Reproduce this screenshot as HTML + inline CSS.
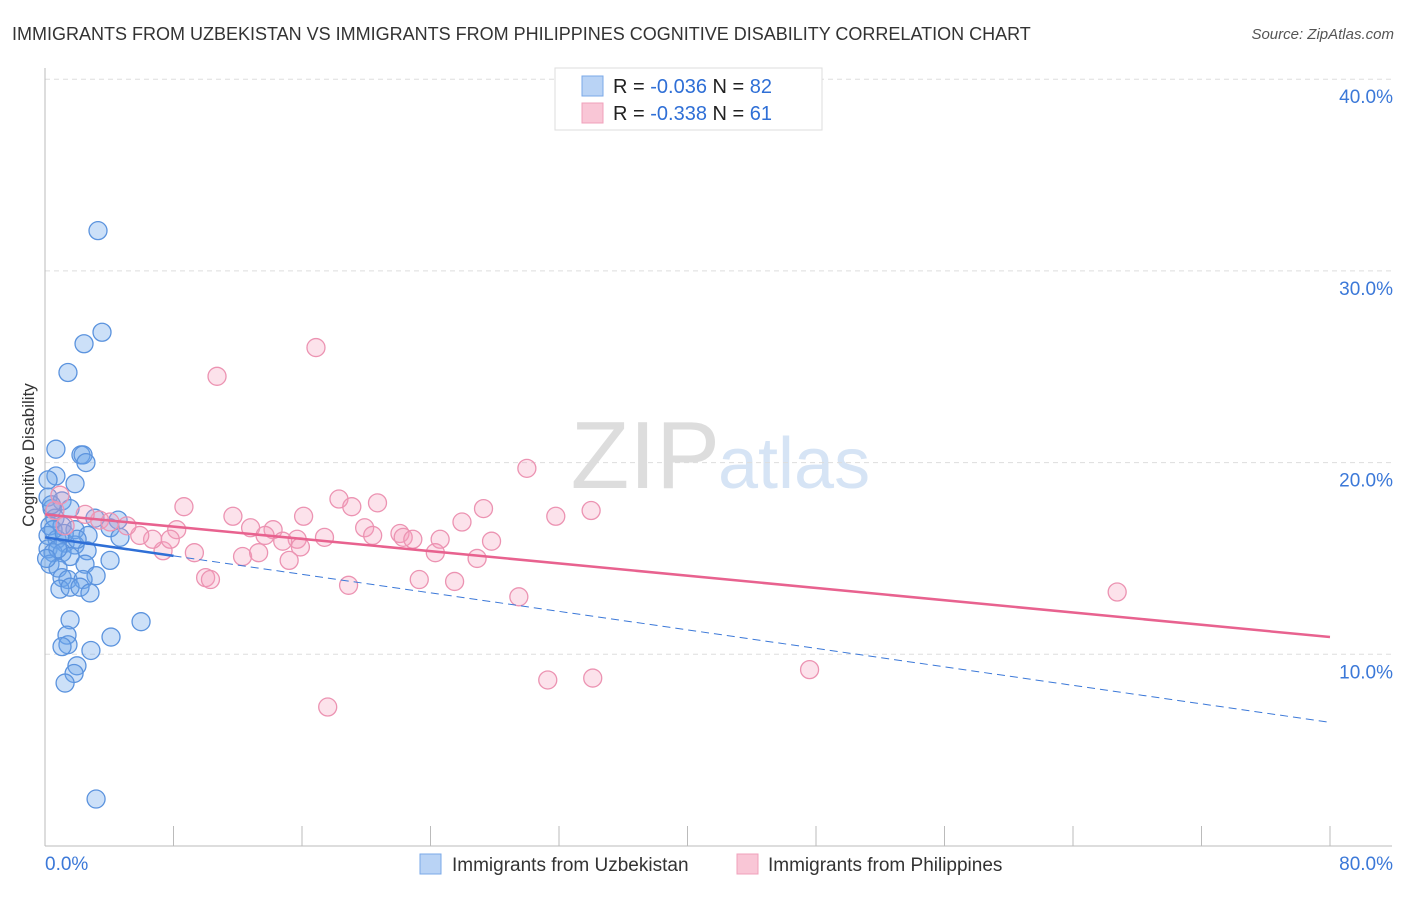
<!DOCTYPE html>
<html><head><meta charset="utf-8"><style>
body{margin:0;background:#fff;font-family:"Liberation Sans",sans-serif}
svg text{font-family:"Liberation Sans",sans-serif}
</style></head><body>
<svg width="1406" height="892" xmlns="http://www.w3.org/2000/svg">
<text x="12" y="40" font-size="18" fill="#333">IMMIGRANTS FROM UZBEKISTAN VS IMMIGRANTS FROM PHILIPPINES COGNITIVE DISABILITY CORRELATION CHART</text>
<text x="1394" y="39" font-size="15" fill="#555" font-style="italic" text-anchor="end">Source: ZipAtlas.com</text>
<text x="720" y="488" font-size="96" fill="#ddd" text-anchor="end" font-family="Liberation Serif">ZIP</text>
<text x="718" y="488" font-size="72" fill="#d6e4f5">atlas</text>
<g id="grid"></g>
<g id="axes"></g>
<g id="pts"></g>
<g id="lines"></g>
<text transform="translate(34,455) rotate(-90)" font-size="17" fill="#333" text-anchor="middle">Cognitive Disability</text>
<g>
<rect x="555" y="68" width="267" height="62" fill="#fff" stroke="#ddd"/>
<rect x="582" y="76" width="21" height="20" fill="#b9d3f5" stroke="#7aa8e8"/>
<rect x="582" y="103" width="21" height="20" fill="#f9c6d6" stroke="#f0a0bb"/>
<text x="613" y="93" font-size="20" fill="#222">R = <tspan fill="#2f6fd6">-0.036</tspan>   N = <tspan fill="#2f6fd6">82</tspan></text>
<text x="613" y="120" font-size="20" fill="#222">R =  <tspan fill="#2f6fd6">-0.338</tspan>   N =  <tspan fill="#2f6fd6">61</tspan></text>
</g>
<g>
<rect x="420" y="854" width="21" height="20" fill="#b9d3f5" stroke="#7aa8e8"/>
<text x="452" y="871" font-size="19" fill="#333">Immigrants from Uzbekistan</text>
<rect x="737" y="854" width="21" height="20" fill="#f9c6d6" stroke="#f0a0bb"/>
<text x="768" y="871" font-size="19" fill="#333">Immigrants from Philippines</text>
</g>
</svg>
<script>
const yTicks=[10,20,30,40];
const yTickLabels=["10.0%","20.0%","30.0%","40.0%"];
const xTickLabels=["0.0%","80.0%"];
const blueX=[3.3,3.55,2.43,1.43,0.68,2.24,2.37,2.55,0.68,1.87,0.19,0.19,1.06,0.44,1.56,0.62,4.55,3.11,0.31,1.06,1.87,4.05,0.19,2.68,4.67,0.75,1.25,0.19,1.87,0.5,1.06,2.62,1.56,0.31,4.05,2.49,0.81,1.06,3.18,1.43,2.37,0.93,1.56,2.18,2.8,5.98,1.56,1.37,1.43,1.06,4.11,2.86,1.99,1.81,1.25,3.18,0.5,0.8,0.1,1.2,0.4,2.0];
const blueY=[32.1,26.8,26.2,24.7,20.7,20.4,20.4,20.0,19.3,18.9,19.1,18.2,18.0,17.6,17.6,17.1,17.0,17.1,16.7,16.7,16.5,16.6,16.2,16.2,16.1,16.0,15.8,15.5,15.7,15.3,15.3,15.4,15.1,14.7,14.9,14.7,14.5,14.0,14.1,13.9,13.9,13.4,13.5,13.5,13.2,11.7,11.8,11.0,10.5,10.4,10.9,10.2,9.4,9.0,8.5,2.45,16.5,15.5,15.0,16.3,17.8,16.0];
const pinkX=[16.87,10.71,30.0,66.75,47.6,17.6,31.3,34.1,29.5,26.9,25.5,23.3,18.9,10.0,10.3,8.65,11.7,16.1,18.3,19.1,20.7,27.3,25.96,31.8,34.0,12.8,14.2,15.7,17.4,19.9,20.4,22.1,22.3,22.9,24.6,27.8,24.3,15.9,14.8,13.7,12.3,13.3,15.2,9.3,7.35,8.2,6.7,5.9,5.1,3.4,2.5,0.93,0.62,1.25,4.05,7.8];
const pinkY=[26.0,24.5,19.7,13.25,9.2,7.25,8.66,8.76,13.0,15.0,13.8,13.9,13.6,14.0,13.9,17.7,17.2,17.2,18.1,17.7,17.9,17.6,16.9,17.2,17.5,16.6,16.5,16.0,16.1,16.6,16.2,16.3,16.1,16.0,16.0,15.9,15.3,15.6,15.9,16.2,15.1,15.3,14.9,15.3,15.4,16.5,16.0,16.2,16.7,17.0,17.3,18.3,17.5,16.7,16.9,16.0];
const pinkTrend=[17.3,10.9];
const blueTrend=[16.1,6.45];
const X=v=>45+v*16.0625, Y=v=>846-v*19.17;
const NS="http://www.w3.org/2000/svg";
function mk(tag,attrs,parent){const e=document.createElementNS(NS,tag);for(const k in attrs)e.setAttribute(k,attrs[k]);document.getElementById(parent).appendChild(e);return e;}
yTicks.forEach((t,i)=>{
 const g=mk('line',{x1:45,x2:1392,y1:Y(t),y2:Y(t),stroke:'#ddd','stroke-dasharray':'5,4'},'grid');
 
 
 const tx=mk('text',{x:1393,y:Y(t)+24,'font-size':19,fill:'#3b78d8','text-anchor':'end'},'grid');
 tx.textContent=yTickLabels[i];
 
 
});
const ax=mk('line',{x1:45,x2:45,y1:68,y2:846,stroke:'#bbb'},'axes');


const bx=mk('line',{x1:45,x2:1392,y1:846,y2:846,stroke:'#bbb'},'axes');


for(let i=0;i<=10;i++){const t=mk('line',{x1:X(i*8),x2:X(i*8),y1:826,y2:846,stroke:'#bbb'},'axes');
 
 }
[[0,'start',45],[80,'end',1393]].forEach((d,i)=>{const t=mk('text',{x:d[2],y:870,'font-size':19,fill:'#3b78d8','text-anchor':d[1]},'axes');t.textContent=xTickLabels[i];
 
 });
blueX.forEach((x,i)=>{const c=mk('circle',{cx:X(x),cy:Y(blueY[i]),r:9,fill:'rgba(110,165,235,0.35)',stroke:'#5b93de','stroke-width':1.3},'pts');
 
 });
pinkX.forEach((x,i)=>{const c=mk('circle',{cx:X(x),cy:Y(pinkY[i]),r:9,fill:'rgba(245,160,190,0.3)',stroke:'#ec93b2','stroke-width':1.3},'pts');
 
 });
const bAt=x=>blueTrend[0]+(blueTrend[1]-blueTrend[0])*x/80;
const l1=mk('line',{x1:X(0),y1:Y(bAt(0)),x2:X(8),y2:Y(bAt(8)),stroke:'#2f6fd6','stroke-width':2.5},'lines');


const l2=mk('line',{x1:X(8),y1:Y(bAt(8)),x2:X(80),y2:Y(bAt(80)),stroke:'#3b78d8','stroke-width':1,'stroke-dasharray':'8,5'},'lines');


const l3=mk('line',{x1:X(0),y1:Y(pinkTrend[0]),x2:X(80),y2:Y(pinkTrend[1]),stroke:'#e8628f','stroke-width':2.5},'lines');


</script>
</body></html>
